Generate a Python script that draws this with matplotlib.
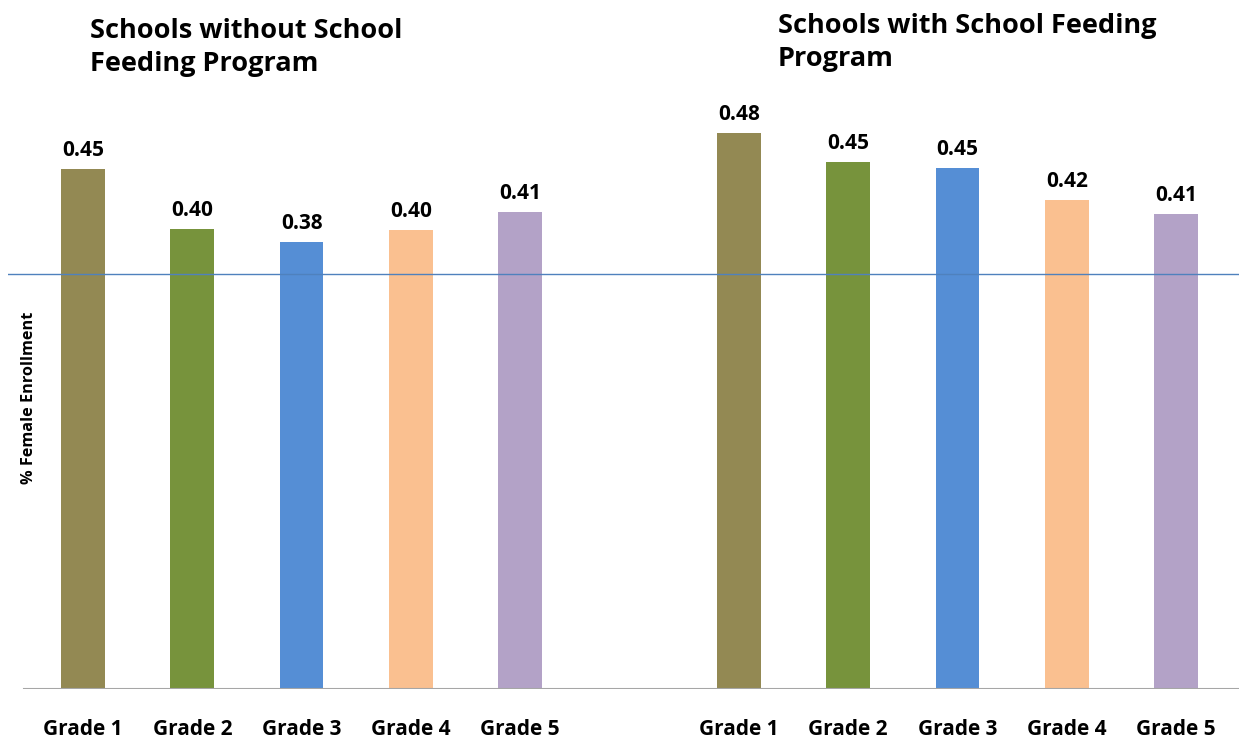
import numpy as np
import matplotlib
matplotlib.use("Agg")
import matplotlib.pyplot as plt

plt.rcParams['font.family'] = ['Open Sans', 'DejaVu Sans']

grades = ["Grade 1", "Grade 2", "Grade 3", "Grade 4", "Grade 5"]
without_vals = [0.450, 0.398, 0.387, 0.397, 0.413]
without_lbls = ["0.45", "0.40", "0.38", "0.40", "0.41"]
with_vals = [0.481, 0.456, 0.451, 0.423, 0.411]
with_lbls = ["0.48", "0.45", "0.45", "0.42", "0.41"]
ref_line = 0.359
colors = ["#938953", "#77933C", "#558ED5", "#FAC090", "#B3A2C7"]

W, H = 1239, 738
fig = plt.figure(figsize=(W / 100, H / 100), dpi=100)

# axes in pixel terms
sp = 109.3
x0 = 83
left_px, right_px = 8, 1239
base_px = 688.5
ytop = 0.55
ppu = 1154
ax = fig.add_axes([left_px / W, (H - base_px) / H,
                   (right_px - left_px) / W, ytop * ppu / H])
xmin = (left_px - x0) / sp
xmax = (right_px - x0) / sp
ax.set_xlim(xmin, xmax)
ax.set_ylim(0, ytop)

pos_without = np.arange(5)
pos_with = np.arange(5) + 6

ax.bar(pos_without, without_vals, width=0.40, color=colors, zorder=2)
ax.bar(pos_with, with_vals, width=0.40, color=colors, zorder=2)

for p, v, t in zip(pos_without, without_vals, without_lbls):
    ax.text(p, v + 0.007, t, ha='center', va='bottom', fontsize=15,
            fontweight='bold')
for p, v, t in zip(pos_with, with_vals, with_lbls):
    ax.text(p, v + 0.007, t, ha='center', va='bottom', fontsize=15,
            fontweight='bold')

ax.axhline(ref_line, color="#4F81BD", lw=1.0, zorder=3)
# baseline starts a bit right of the reference line
bstart = ((24 - left_px) / (right_px - left_px))
ax.axhline(0, xmin=bstart, xmax=1, color="#A6A6A6", lw=1.5, zorder=3)

for s in ax.spines.values():
    s.set_visible(False)
ax.set_yticks([])
ax.set_xticks(list(pos_without) + list(pos_with))
ax.set_xticklabels(grades + grades, fontsize=15, fontweight='bold')
ax.tick_params(axis='x', length=0, pad=22)

fig.text(29 / W, (H - 398) / H, "% Female Enrollment", rotation=90,
         ha='center', va='center', fontsize=11.7, fontweight='bold')

fig.text(90 / W, (H - 18) / H, "Schools without School\nFeeding Program",
         ha='left', va='top', fontsize=19.5, fontweight='bold', linespacing=1.33)
fig.text(778 / W, (H - 13) / H, "Schools with School Feeding\nProgram",
         ha='left', va='top', fontsize=19.5, fontweight='bold', linespacing=1.33)

fig.savefig("out.png", dpi=100)
